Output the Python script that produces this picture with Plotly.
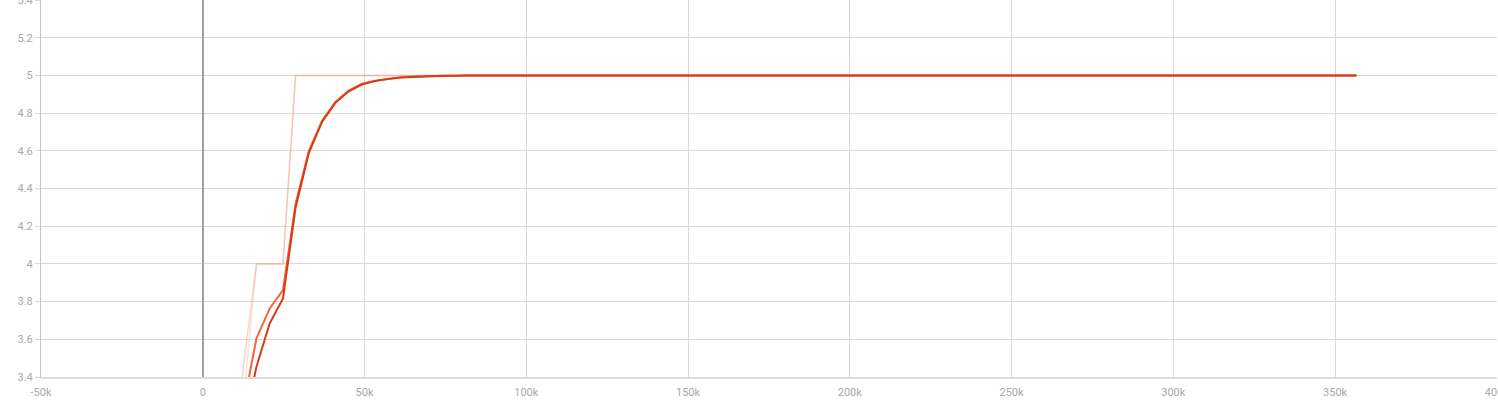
import plotly.graph_objects as go

# training steps (x) shared by both runs
steps = [4500, 8400, 12500, 16600, 20700, 24800, 28700, 32800, 36900, 41000,
         45000, 49100, 53200, 57300, 61400, 65500, 69600, 73700, 77800, 81900, 356600]

# raw values (faint lines)
raw_a = [2.2, 2.7, 3.45, 4.0, 4.0, 4.0, 5.0, 5.0, 5.0, 5.0,
         5.0, 5.0, 5.0, 5.0, 5.0, 5.0, 5.0, 5.0, 5.0, 5.0, 5.0]
raw_b = [2.0, 2.6, 3.26, 4.0, 4.0, 4.0, 5.0, 5.0, 5.0, 5.0,
         5.0, 5.0, 5.0, 5.0, 5.0, 5.0, 5.0, 5.0, 5.0, 5.0, 5.0]

# smoothed values
smooth_a = [2.6, 2.95, 3.24, 3.605, 3.764, 3.861, 4.32, 4.60, 4.76, 4.86,
            4.918, 4.955, 4.972, 4.983, 4.99, 4.994, 4.9965, 4.998, 4.999, 4.9995, 5.0]
smooth_b = [2.4, 2.8, 3.12, 3.455, 3.685, 3.817, 4.30, 4.59, 4.755, 4.855,
            4.915, 4.952, 4.97, 4.982, 4.989, 4.993, 4.996, 4.998, 4.999, 4.9995, 5.0]

x_ticks = [-50000, 0, 50000, 100000, 150000, 200000, 250000, 300000, 350000, 400000]
x_labels = ["-50k", "0", "50k", "100k", "150k", "200k", "250k", "300k", "350k", "400k"]
y_ticks = [3.4, 3.6, 3.8, 4.0, 4.2, 4.4, 4.6, 4.8, 5.0, 5.2, 5.4]
y_labels = ["3.4", "3.6", "3.8", "4", "4.2", "4.4", "4.6", "4.8", "5", "5.2", "5.4"]

fig = go.Figure()
fig.add_trace(go.Scatter(x=steps, y=raw_b, mode="lines",
                         line=dict(color="rgba(246,170,150,0.35)", width=1.5), showlegend=False))
fig.add_trace(go.Scatter(x=steps, y=raw_a, mode="lines",
                         line=dict(color="rgba(240,150,130,0.4)", width=1.5), showlegend=False))
fig.add_trace(go.Scatter(x=steps, y=smooth_a, mode="lines",
                         line=dict(color="#f4663a", width=2), showlegend=False))
fig.add_trace(go.Scatter(x=steps, y=smooth_b, mode="lines",
                         line=dict(color="#d83a16", width=2), showlegend=False))

fig.update_layout(
    width=1498, height=400,
    margin=dict(l=41, r=1, t=0, b=23),
    paper_bgcolor="white", plot_bgcolor="white",
    font=dict(family="Roboto", size=11, color="#a8a8a8"),
    xaxis=dict(range=[-50000, 400050], tickvals=x_ticks, ticktext=x_labels,
               showgrid=True, gridcolor="#d9d9d9", gridwidth=1,
               zeroline=True, zerolinecolor="#a0a0a0", zerolinewidth=2,
               showline=True, linecolor="#dddddd", linewidth=2,
               ticks="", ticklabelstandoff=4, ticklabeloverflow="allow",
               automargin=False, fixedrange=True),
    yaxis=dict(range=[3.4, 5.4005], tickvals=y_ticks, ticktext=y_labels,
               showgrid=True, gridcolor="#d9d9d9", gridwidth=1,
               zeroline=False, showline=True, linecolor="#c4c4c4", linewidth=1,
               ticks="outside", ticklen=5, tickcolor="#d9d9d9",
               ticklabeloverflow="allow",
               automargin=False, fixedrange=True),
)

fig.write_html(
    "out.html",
    config={"displayModeBar": False},
    post_script="document.body.style.margin='0';document.body.style.overflow='hidden';",
)
